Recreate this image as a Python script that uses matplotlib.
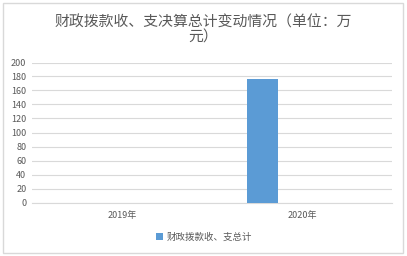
import matplotlib
matplotlib.use("Agg")
import matplotlib.pyplot as plt
from matplotlib.patches import Rectangle

plt.rcParams['font.family'] = ['Noto Sans CJK SC', 'DejaVu Sans']

title = "财政拨款收、支决算总计变动情况（单位：万\n元）"
categories = ["2019年", "2020年"]
series_name = "财政拨款收、支总计"
values = [0, 176]
yticks = [0, 20, 40, 60, 80, 100, 120, 140, 160, 180, 200]

W, H = 407, 256
fig = plt.figure(figsize=(W / 100, H / 100), dpi=100)
fig.patch.set_facecolor("white")

# outer border
fig.patches.append(Rectangle((3 / W, 3.5 / H), 400 / W, 250 / H, transform=fig.transFigure,
                             fill=False, edgecolor="#d9d9d9", linewidth=1.0))

ax = fig.add_axes([32 / W, (H - 202.5) / H, 360 / W, 140 / H])
x = list(range(len(categories)))
bar_offset = -0.222
bar_width = 0.172
ax.bar([i + bar_offset for i in x], values, width=bar_width, color="#5b9bd5", label=series_name, zorder=3)

ax.set_xlim(-0.5, len(categories) - 0.5)
ax.set_ylim(0, 200)
ax.set_yticks(yticks)
ax.set_yticklabels([str(v) for v in yticks], fontsize=6.5, color="#595959")
ax.set_xticks(x)
ax.set_xticklabels(categories, fontsize=6.5, color="#595959")
ax.tick_params(axis="both", length=0)
ax.tick_params(axis="y", pad=4)
ax.tick_params(axis="x", pad=6)
ax.grid(axis="y", color="#d9d9d9", linewidth=0.8, zorder=0)
for s in ["top", "right", "left"]:
    ax.spines[s].set_visible(False)
ax.spines["bottom"].set_color("#d9d9d9")
ax.spines["bottom"].set_linewidth(0.8)

fig.text(203 / W, 1 - 30 / H, title, ha="center", va="center", fontsize=10.7,
         color="#595959", linespacing=1.15)

leg = fig.legend(loc="center", bbox_to_anchor=(204 / W, 1 - 237 / H), frameon=False,
                 fontsize=6.8, handlelength=0.7, handleheight=0.7, handletextpad=0.4,
                 labelcolor="#595959")

fig.savefig("out.png", dpi=100, facecolor="white")
